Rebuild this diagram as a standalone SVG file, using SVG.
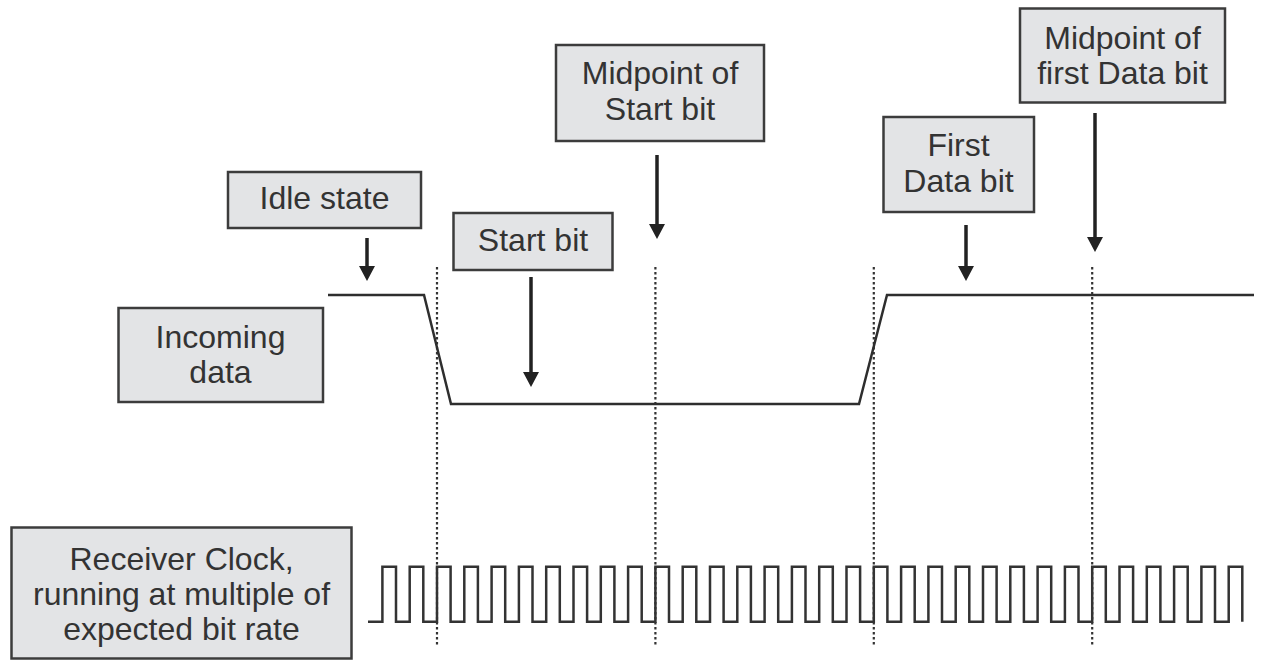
<svg xmlns="http://www.w3.org/2000/svg" width="1268" height="668" viewBox="0 0 1268 668">
<style>
.box{fill:#e3e4e6;stroke:#3c3c3c;stroke-width:2.5}
.lbl{font-family:"Liberation Sans",Arial,sans-serif;font-size:32px;fill:#333;text-anchor:middle}
.arr{stroke:#222;stroke-width:3.5;fill:none;marker-end:url(#ah)}
.wave{stroke:#2e2e2e;stroke-width:2.5;fill:none;stroke-linejoin:miter}
.clk{stroke:#333;stroke-width:2.5;fill:none}
.dot{stroke:#333;stroke-width:2.2;stroke-dasharray:2.5 2.5;fill:none}
</style>
<defs>
<marker id="ah" markerUnits="userSpaceOnUse" markerWidth="16" markerHeight="17" refX="1" refY="8" orient="auto" viewBox="0 0 16 16">
<path d="M0,0 L15,8 L0,16 z" fill="#222"/>
</marker>
</defs>
<rect width="1268" height="668" fill="#fff"/>

<g id="guides">
<line class="dot" x1="437" y1="267" x2="437" y2="647"/>
<line class="dot" x1="655.4" y1="267" x2="655.4" y2="647"/>
<line class="dot" x1="873.8" y1="267" x2="873.8" y2="647"/>
<line class="dot" x1="1092.2" y1="267" x2="1092.2" y2="647"/>
</g>

<g id="incoming-waveform">
<polyline class="wave" points="328,295 424,295 451,404 859,404 887,295 1254,295"/>
</g>

<g id="clock-waveform">
<path class="clk" d="M368,621.7 h14.4 v-55 h13.6 v55 h13.7 v-55 h13.6 v55 h13.7 v-55 h13.6 v55 h13.7 v-55 h13.6 v55 h13.7 v-55 h13.6 v55 h13.7 v-55 h13.6 v55 h13.7 v-55 h13.6 v55 h13.7 v-55 h13.6 v55 h13.7 v-55 h13.6 v55 h13.7 v-55 h13.6 v55 h13.7 v-55 h13.6 v55 h13.7 v-55 h13.6 v55 h13.7 v-55 h13.6 v55 h13.7 v-55 h13.6 v55 h13.7 v-55 h13.6 v55 h13.7 v-55 h13.6 v55 h13.7 v-55 h13.6 v55 h13.7 v-55 h13.6 v55 h13.7 v-55 h13.6 v55 h13.7 v-55 h13.6 v55 h13.7 v-55 h13.6 v55 h13.7 v-55 h13.6 v55 h13.7 v-55 h13.6 v55 h13.7 v-55 h13.6 v55 h13.7 v-55 h13.6 v55 h13.7 v-55 h13.6 v55 h13.7 v-55 h13.6 v55 h13.7 v-55 h13.6 v55 h13.7 v-55 h13.6 v55 h13.7 v-55 h13.6 v55 h13.7 v-55 h13.6 v55 h13.7 v-55 h13.6 v55"/>
</g>

<g id="connectors">
<line class="arr" x1="367" y1="238" x2="367" y2="267"/>
<line class="arr" x1="531" y1="277" x2="531" y2="373"/>
<line class="arr" x1="657" y1="155" x2="657" y2="225"/>
<line class="arr" x1="966" y1="225" x2="966" y2="267"/>
<line class="arr" x1="1095" y1="113" x2="1095" y2="238"/>
</g>

<g id="idle-state">
<rect class="box" x="228" y="172" width="193" height="56"/>
<text class="lbl" x="324.5" y="209">Idle state</text>
</g>

<g id="start-bit">
<rect class="box" x="453.5" y="213" width="159" height="57"/>
<text class="lbl" x="533" y="251">Start bit</text>
</g>

<g id="midpoint-start-bit">
<rect class="box" x="556" y="45" width="208" height="96"/>
<text class="lbl" x="660" y="84">Midpoint of</text>
<text class="lbl" x="660" y="120">Start bit</text>
</g>

<g id="incoming-data">
<rect class="box" x="118.5" y="308" width="204.5" height="94"/>
<text class="lbl" x="220.5" y="348">Incoming</text>
<text class="lbl" x="220.5" y="383">data</text>
</g>

<g id="first-data-bit">
<rect class="box" x="883.5" y="117" width="150.5" height="95"/>
<text class="lbl" x="958.5" y="156">First</text>
<text class="lbl" x="958.5" y="192">Data bit</text>
</g>

<g id="midpoint-first-data-bit">
<rect class="box" x="1020" y="8.5" width="205" height="94"/>
<text class="lbl" x="1122.5" y="49">Midpoint of</text>
<text class="lbl" x="1122.5" y="84">first Data bit</text>
</g>

<g id="receiver-clock">
<rect class="box" x="11.5" y="527.5" width="340" height="131"/>
<text class="lbl" x="181.5" y="570">Receiver Clock,</text>
<text class="lbl" x="181.5" y="605">running at multiple of</text>
<text class="lbl" x="181.5" y="640">expected bit rate</text>
</g>
</svg>
